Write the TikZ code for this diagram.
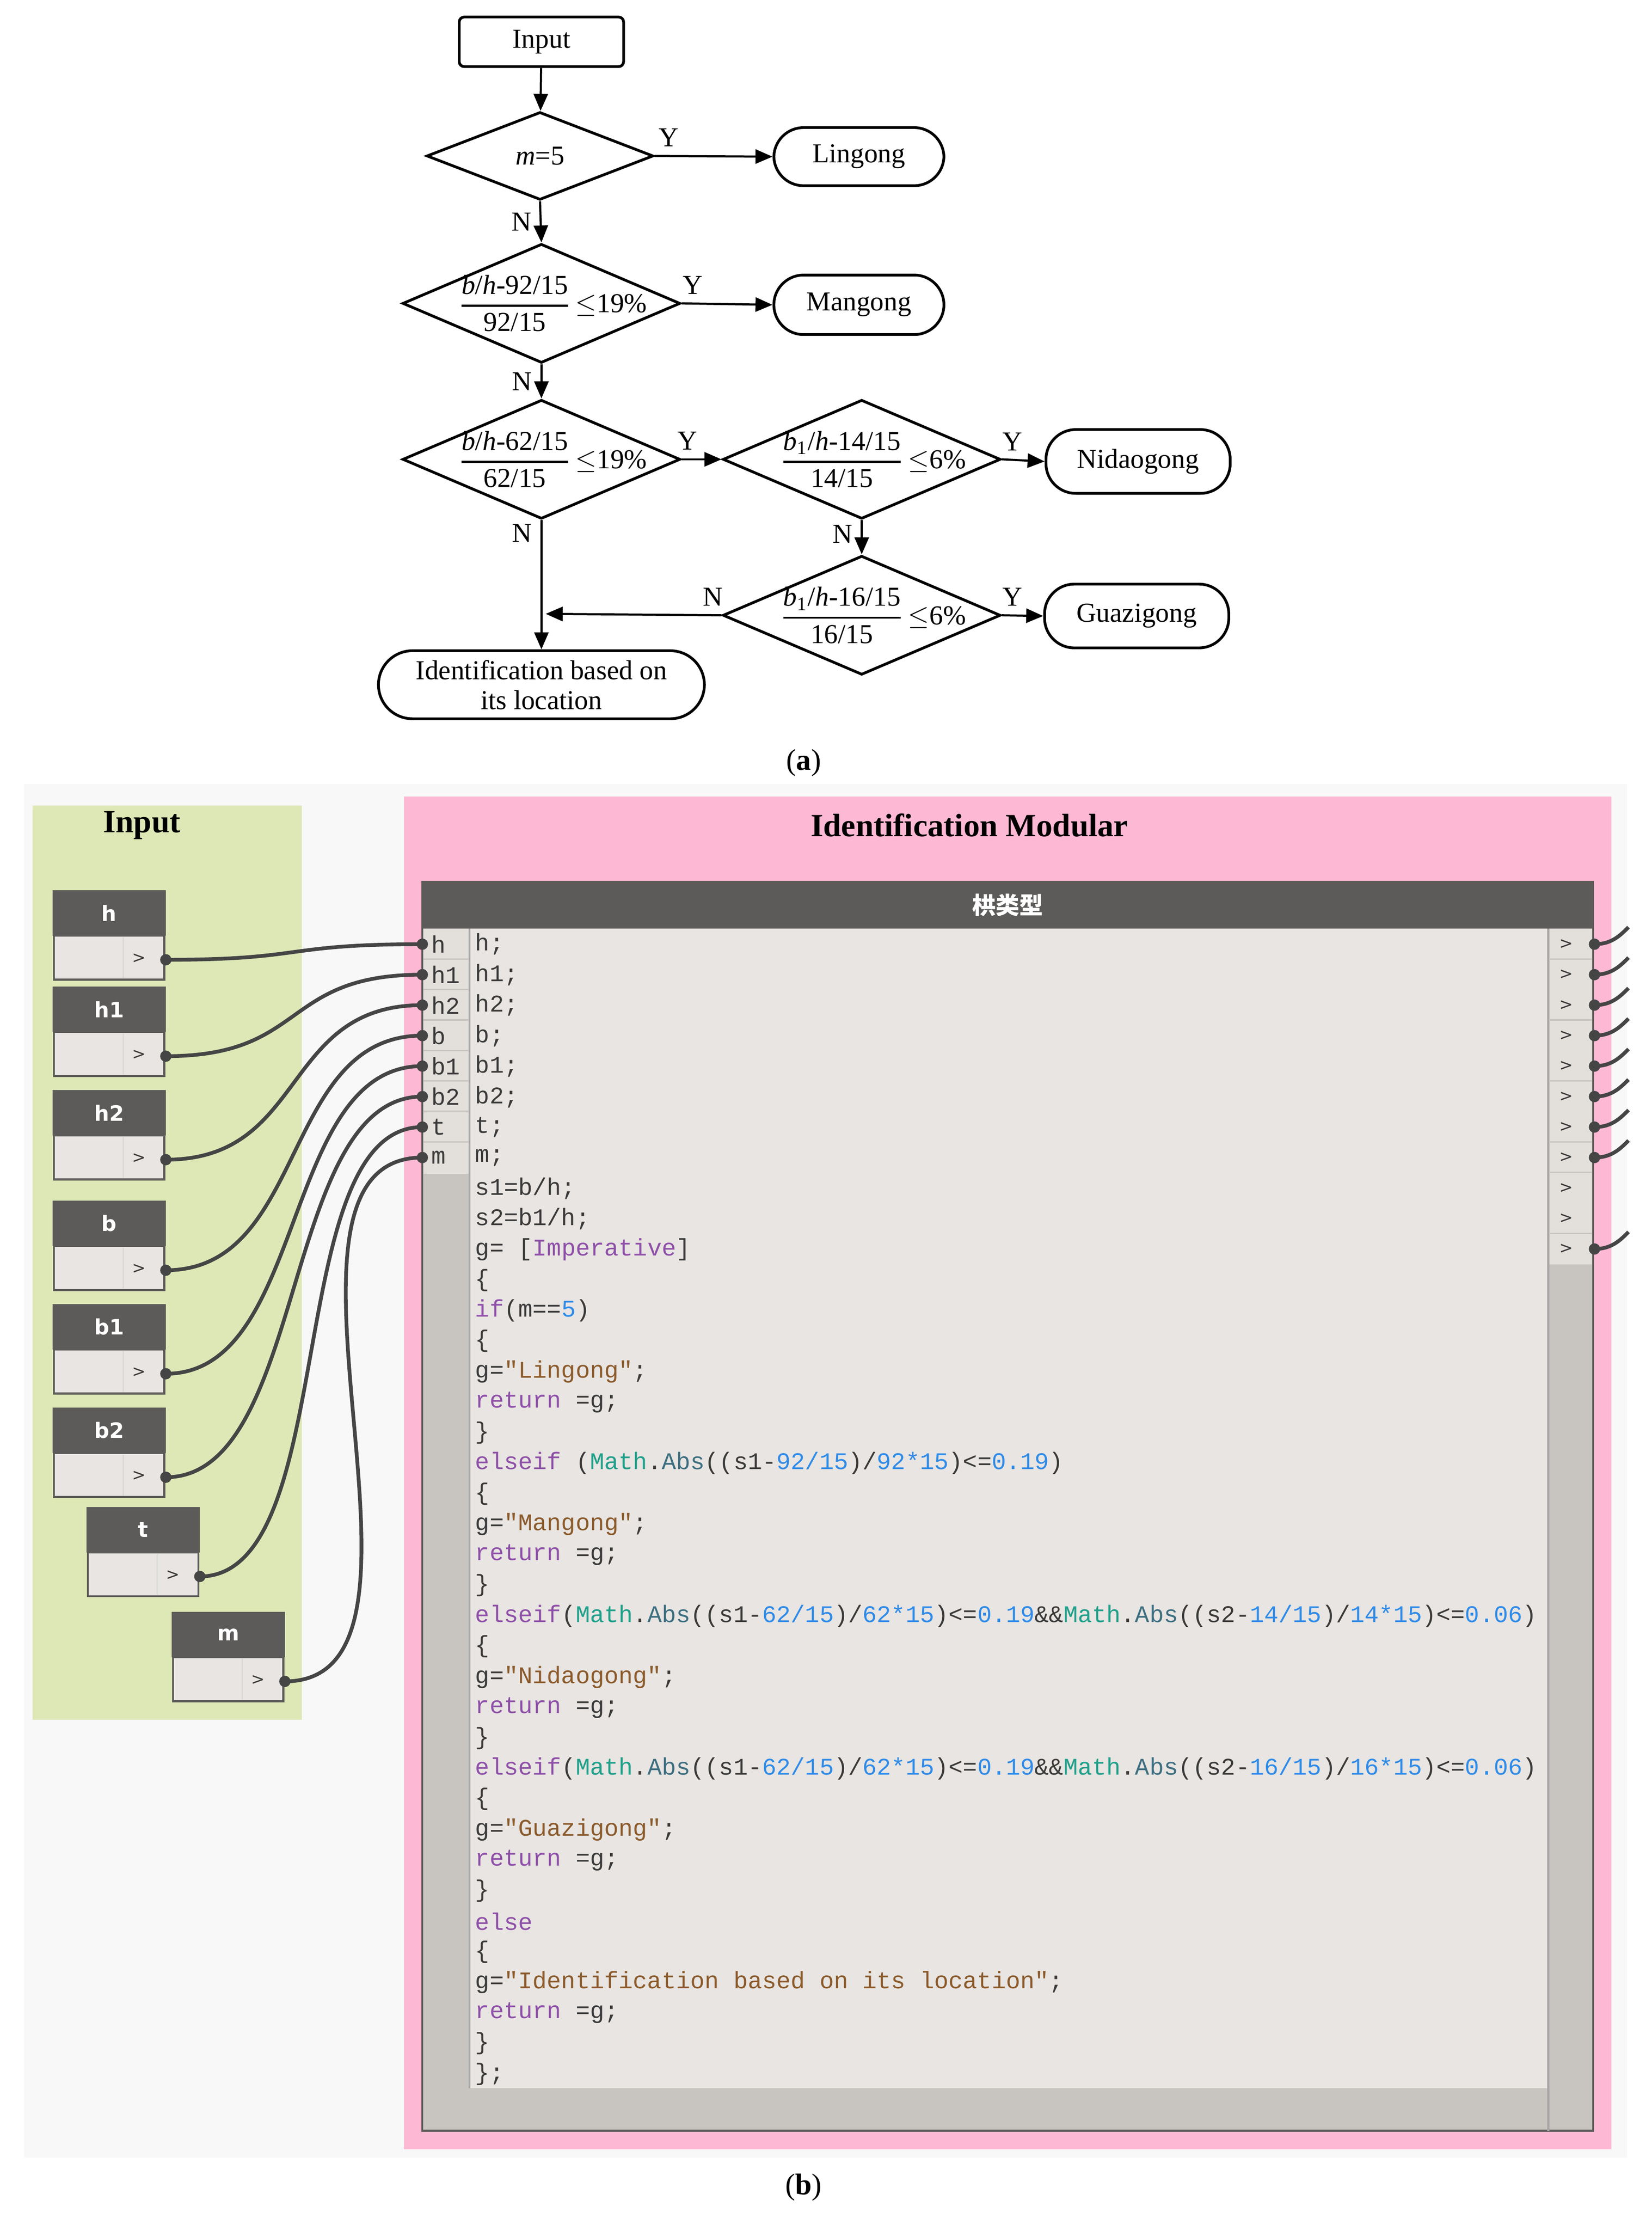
\documentclass[tikz,border=0pt]{standalone}
\usepackage{amsmath}
\usepackage{fontspec}
\setmainfont{Liberation Serif}
\newfontfamily\codefont{Liberation Mono}
\newfontfamily\dynfont{DejaVu Sans}
\newfontfamily\cjk{Noto Sans CJK SC}
\usetikzlibrary{shapes.geometric,arrows.meta,positioning}

\definecolor{dyndark}{HTML}{5D5B59}
\definecolor{dynbody}{HTML}{C8C4BF}
\definecolor{dynlight}{HTML}{E8E5E2}
\definecolor{dynport}{HTML}{E3E0DC}
\definecolor{wirec}{HTML}{454545}
\definecolor{grpgreen}{HTML}{DDE8B6}
\definecolor{grppink}{HTML}{FDB9D3}
\definecolor{canvasc}{HTML}{F8F8F8}
\definecolor{kwc}{HTML}{8E4FA8}
\definecolor{mathc}{HTML}{1FA08A}
\definecolor{absc}{HTML}{3D6E80}
\definecolor{numc}{HTML}{2F8BE8}
\definecolor{strc}{HTML}{8B5A2B}
\definecolor{codec}{HTML}{3A3A3A}

\tikzset{
  flow/.style={line width=0.85pt, -{Triangle[length=0.24cm,width=0.2cm]}},
  box/.style={draw, line width=1.1pt, rounded corners=2pt, minimum width=2.32cm, minimum height=0.7cm, font=\fontsize{11}{13}\selectfont},
  pill/.style={draw, line width=1.1pt, rounded corners=0.42cm, minimum height=0.84cm, font=\fontsize{11}{13}\selectfont},
  dia/.style={draw, diamond, line width=1.1pt, inner sep=0pt, minimum width=3.92cm, minimum height=1.68cm},
  yn/.style={font=\fontsize{11}{13}\selectfont},
  ftxt/.style={font=\fontsize{11}{13}\selectfont, inner sep=0pt},
  wire/.style={line width=1.5pt, draw=wirec},
  code/.style={anchor=west, inner sep=0pt, text=codec, font=\codefont\fontsize{9.6}{11}\selectfont},
  plab/.style={anchor=west, inner sep=0pt, text=codec, font=\codefont\fontsize{9.6}{11}\selectfont},
  grptitle/.style={font=\bfseries\fontsize{13}{15}\selectfont}
}

\newcommand\kw[1]{\textcolor{kwc}{#1}}
\newcommand\nm[1]{\textcolor{numc}{#1}}
\newcommand\st[1]{\textcolor{strc}{#1}}
\newcommand\mabs{\textcolor{mathc}{Math}.\textcolor{absc}{Abs}}
\newcommand\cl[2]{\node[code] (c#1) at (335,{666+21.54*(#1-1)}) {#2};}
\newcommand\ratio[3]{$\genfrac{}{}{0.8pt}{0}{\text{#1/\textit{h}-#2}}{\text{#2}}$\,$\leq$#3}

\begin{document}
\begin{tikzpicture}[x=0.02cm, y=-0.02cm]
\useasboundingbox (0,0) rectangle (1165.5,1573);

%(a) flowchart
\node[box] (in) at (382,29.5) {Input};
\node[dia, minimum width=3.2cm, minimum height=1.24cm] (d1) at (381,110) {};
\node[ftxt] at (d1) {\textit{m}=5};
\node[pill, minimum width=2.4cm, minimum height=0.82cm] (ling) at (606,110.5) {Lingong};

\node[dia] (d2) at (382,214) {};
\node[ftxt] at (390,214) {\ratio{\textit{b}}{92/15}{19\%}};
\node[pill, minimum width=2.4cm] (mang) at (606,215) {Mangong};

\node[dia] (d3) at (382,324) {};
\node[ftxt] at (390,324) {\ratio{\textit{b}}{62/15}{19\%}};
\node[dia] (d4) at (608,324) {};
\node[ftxt] at (616,324) {\ratio{\textit{b}\textsubscript{1}}{14/15}{6\%}};
\node[pill, minimum width=2.6cm, minimum height=0.9cm] (nid) at (803,325.5) {Nidaogong};

\node[dia] (d5) at (608,434) {};
\node[ftxt] at (616,434) {\ratio{\textit{b}\textsubscript{1}}{16/15}{6\%}};
\node[pill, minimum width=2.6cm, minimum height=0.9cm] (gua) at (802,434.5) {Guazigong};

\node[pill, minimum width=4.6cm, minimum height=0.96cm, rounded corners=0.48cm, align=center, font=\fontsize{11}{12}\selectfont] (ident) at (382,483) {Identification based on\\its location};
\coordinate (jn) at (385,433);

\draw[flow] (in) -- (d1);
\draw[flow] (d1.east) -- (ling.west) node[yn, pos=0.12, above] {Y};
\draw[flow] (d1.south) -- (d2.north) node[yn, midway, left] {N};
\draw[flow] (d2.east) -- (mang.west) node[yn, pos=0.12, above] {Y};
\draw[flow] (d2.south) -- (d3.north) node[yn, midway, left] {N};
\draw[flow] (d3.east) -- (d4.west) node[yn, pos=0.15, above] {Y};
\draw[flow] (d4.east) -- (nid.west) node[yn, pos=0.25, above] {Y};
\draw[flow] (d4.south) -- (d5.north) node[yn, pos=0.4, left] {N};
\draw[flow] (d5.east) -- (gua.west) node[yn, pos=0.25, above] {Y};
\draw[flow] (d3.south) -- (ident.north) node[yn, pos=0.1, left] {N};
\draw[flow] (d5.west) -- (jn) node[yn, pos=0.05, above] {N};

\node[font=\fontsize{12}{14}\selectfont] (capa) at (567,538) {(\textbf{a})};

%(b) Dynamo graph
\fill[canvasc] (17,553) rectangle (1148,1522);
\fill[grpgreen] (23,568) rectangle (213,1213);
\fill[grppink] (285,562) rectangle (1137,1516);
\node[grptitle] (tin) at (100,582) {Input};
\node[grptitle] (tid) at (684,582) {Identification Modular};

%code block node
\draw[dyndark, fill=dynbody, line width=0.8pt] (298,622) rectangle (1124,1503);
\fill[dyndark] (298,622) rectangle (1124,655);
\node[text=white, font=\cjk\bfseries\fontsize{9.5}{11}\selectfont] (cbt) at (711,638.5) {栱类型};
\fill[dynport] (299,655) rectangle (331,828);
\draw[gray!70, line width=1pt] (331.5,655) -- (331.5,1473);
\fill[dynlight] (332,655) rectangle (1092,1473);
\fill[dynport] (1093,655) rectangle (1123,892);
\draw[gray!70, line width=1pt] (1092.5,655) -- (1092.5,1503);
\foreach \r in {1,...,7}
  \draw[dynbody, line width=0.6pt] (299,{655+21.5*\r}) -- (331,{655+21.5*\r});
\foreach \r in {1,3,5,7,8,10}
  \draw[dynbody, line width=0.6pt] (1093,{655+21.5*\r}) -- (1123,{655+21.5*\r});
\foreach \r in {0,...,10}
  \node[font=\dynfont\fontsize{6.5}{7}\selectfont, text=codec] (r\r) at (1105,{666+21.5*\r}) {>};

%input ports
\foreach \n [count=\i from 0] in {h,h1,h2,b,b1,b2,t,m} {
  \coordinate (p-\n) at (298,{666+21.5*\i});
  \node[plab] (pl-\n) at (304,{666+21.5*\i}) {\n};
}

%input nodes
\foreach \n/\x/\y in {h/37/628, h1/37/696, h2/37/769, b/37/847, b1/37/920, b2/37/993, t/61/1063, m/121/1137} {
  \fill[dyndark] (\x,\y) rectangle (\x+80,\y+32);
  \draw[dyndark, fill=dynlight, line width=0.8pt] (\x+1,\y+32) rectangle (\x+79,\y+63);
  \draw[gray!30, line width=0.5pt] (\x+50,\y+33) -- (\x+50,\y+62);
  \node[text=white, font=\dynfont\bfseries\fontsize{8.5}{10}\selectfont] (n-\n) at (\x+40,\y+16) {\n};
  \node[font=\dynfont\fontsize{6.5}{7}\selectfont, text=codec] (g-\n) at (\x+61,\y+48) {>};
  \coordinate (o-\n) at (\x+80,\y+49);
}

%wires
\foreach \n/\c in {h/100,h1/100,h2/100,b/100,b1/100,b2/100,t/100,m/130} {
  \draw[wire] (o-\n) .. controls +(\c,0) and +(-\c,0) .. (p-\n);
  \fill[wirec] (o-\n) circle (4);
  \fill[wirec] (p-\n) circle (4);
}
\foreach \r in {0,...,7,10} {
  \coordinate (q\r) at (1125,{666+21.5*\r});
  \fill[wirec] (q\r) circle (4);
  \draw[wire] (q\r) .. controls +(12,0) and +(-6,6) .. +(24,-12);
}

%code text
\cl{1}{h;}
\cl{2}{h1;}
\cl{3}{h2;}
\cl{4}{b;}
\cl{5}{b1;}
\cl{6}{b2;}
\cl{7}{t;}
\cl{8}{m;}
\cl{9}{s1=b/h;}
\cl{10}{s2=b1/h;}
\cl{11}{g= [\kw{Imperative}]}
\cl{12}{\{}
\cl{13}{\kw{if}(m==\nm{5})}
\cl{14}{\{}
\cl{15}{g=\st{"Lingong"};}
\cl{16}{\kw{return} =g;}
\cl{17}{\}}
\cl{18}{\kw{elseif} (\mabs((s1-\nm{92/15})/\nm{92*15})<=\nm{0.19})}
\cl{19}{\{}
\cl{20}{g=\st{"Mangong"};}
\cl{21}{\kw{return} =g;}
\cl{22}{\}}
\cl{23}{\kw{elseif}(\mabs((s1-\nm{62/15})/\nm{62*15})<=\nm{0.19}\&\&\mabs((s2-\nm{14/15})/\nm{14*15})<=\nm{0.06})}
\cl{24}{\{}
\cl{25}{g=\st{"Nidaogong"};}
\cl{26}{\kw{return} =g;}
\cl{27}{\}}
\cl{28}{\kw{elseif}(\mabs((s1-\nm{62/15})/\nm{62*15})<=\nm{0.19}\&\&\mabs((s2-\nm{16/15})/\nm{16*15})<=\nm{0.06})}
\cl{29}{\{}
\cl{30}{g=\st{"Guazigong"};}
\cl{31}{\kw{return} =g;}
\cl{32}{\}}
\cl{33}{\kw{else}}
\cl{34}{\{}
\cl{35}{g=\st{"Identification based on its location"};}
\cl{36}{\kw{return} =g;}
\cl{37}{\}}
\cl{38}{\};}

\node[font=\fontsize{12}{14}\selectfont] (capb) at (567,1543) {(\textbf{b})};
\end{tikzpicture}
\end{document}
